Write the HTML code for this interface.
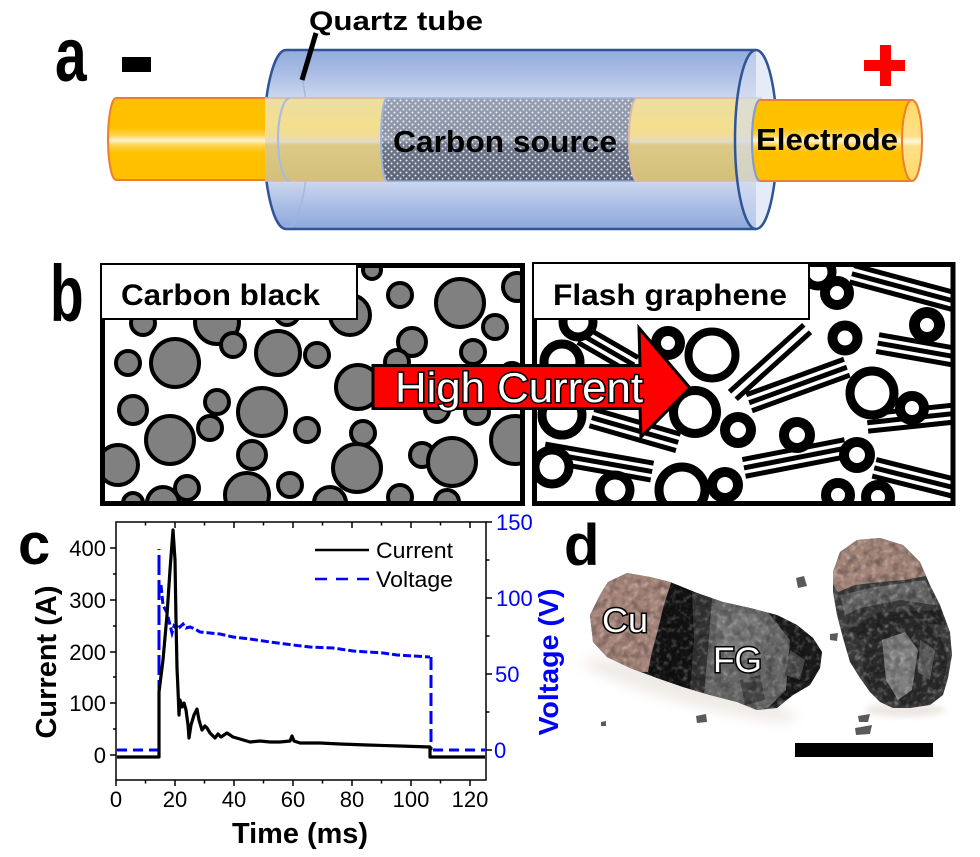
<!DOCTYPE html>
<html><head><meta charset="utf-8"><style>html,body{margin:0;padding:0;background:#fff;}svg{display:block}</style></head>
<body>
<svg width="980" height="857" viewBox="0 0 980 857" xmlns="http://www.w3.org/2000/svg" font-family="'Liberation Sans', Arial, sans-serif">
<defs>
<linearGradient id="tube" x1="0" y1="50" x2="0" y2="229" gradientUnits="userSpaceOnUse">
 <stop offset="0" stop-color="#93abdc"/><stop offset="0.13" stop-color="#aabde5"/><stop offset="0.27" stop-color="#cdd8ef"/><stop offset="0.5" stop-color="#e0e7f5"/><stop offset="0.73" stop-color="#cdd8ef"/><stop offset="0.87" stop-color="#aabde5"/><stop offset="1" stop-color="#8fa8da"/>
</linearGradient>
<linearGradient id="elec" x1="0" y1="98" x2="0" y2="181" gradientUnits="userSpaceOnUse">
 <stop offset="0" stop-color="#ffc000"/><stop offset="0.36" stop-color="#ffc000"/><stop offset="0.45" stop-color="#ffd34d"/><stop offset="0.51" stop-color="#fff3d0"/><stop offset="0.57" stop-color="#ffd34d"/><stop offset="0.66" stop-color="#ffc000"/><stop offset="1" stop-color="#ffc000"/>
</linearGradient>
<linearGradient id="iny" x1="0" y1="98" x2="0" y2="181" gradientUnits="userSpaceOnUse">
 <stop offset="0" stop-color="#ebdea2"/><stop offset="0.35" stop-color="#f3df8e"/><stop offset="0.47" stop-color="#f0dc9a"/><stop offset="0.52" stop-color="#e2ddcb"/><stop offset="0.57" stop-color="#dcc986"/><stop offset="1" stop-color="#d3c07a"/>
</linearGradient>
<linearGradient id="carb" x1="0" y1="98" x2="0" y2="181" gradientUnits="userSpaceOnUse">
 <stop offset="0" stop-color="#97a0b1"/><stop offset="0.4" stop-color="#8a93a5"/><stop offset="0.5" stop-color="#9ba3b3"/><stop offset="0.56" stop-color="#6f788b"/><stop offset="1" stop-color="#586175"/>
</linearGradient>
<linearGradient id="cap" x1="0" y1="100" x2="0" y2="181" gradientUnits="userSpaceOnUse">
 <stop offset="0" stop-color="#ffd966"/><stop offset="0.45" stop-color="#ffe08a"/><stop offset="0.51" stop-color="#fff8e0"/><stop offset="0.57" stop-color="#ffe08a"/><stop offset="1" stop-color="#ffd966"/>
</linearGradient>
<pattern id="dots" width="6" height="6" patternUnits="userSpaceOnUse"><circle cx="1.5" cy="1.5" r="1" fill="#fff" opacity="0.85"/><circle cx="4.5" cy="4.5" r="1" fill="#fff" opacity="0.85"/></pattern>
<clipPath id="clipL"><rect x="105" y="268" width="415" height="235"/></clipPath>
<clipPath id="clipR"><rect x="537" y="267" width="414" height="236"/></clipPath>
<filter id="mot" x="0" y="0" width="100%" height="100%"><feTurbulence type="fractalNoise" baseFrequency="0.18" numOctaves="2" seed="5"/><feColorMatrix type="matrix" values="0 0 0 0 1  0 0 0 0 1  0 0 0 0 1  0 0 0 2.4 -1.15"/></filter>
<filter id="motd" x="0" y="0" width="100%" height="100%"><feTurbulence type="fractalNoise" baseFrequency="0.12" numOctaves="2" seed="11"/><feColorMatrix type="matrix" values="0 0 0 0 0  0 0 0 0 0  0 0 0 0 0  0 0 0 2.4 -1.0"/></filter>
<filter id="blur6" x="-30%" y="-100%" width="160%" height="300%"><feGaussianBlur stdDeviation="6"/></filter>
<filter id="blur3" x="-30%" y="-100%" width="160%" height="300%"><feGaussianBlur stdDeviation="3"/></filter>
<clipPath id="objL"><polygon points="590,615 600,595 608,582 627,573 650,577 670,582 697,593 723,602 750,608 777,615 797,625 813,638 822,652 820,668 810,685 793,695 777,708 757,710 737,702 710,695 683,687 657,678 630,668 607,657 593,642"/></clipPath>
<clipPath id="objR"><polygon points="833,572 840,552 857,540 880,538 903,545 920,562 930,585 940,605 950,632 952,655 948,678 943,695 930,705 910,708 893,708 880,702 870,692 860,678 850,662 843,638 837,615 833,592"/></clipPath>
</defs>

<!-- ============ Panel a ============ -->
<g transform="translate(55,81) scale(1,1.34)"><text x="0" y="0" font-size="57" font-weight="bold">a</text></g>
<rect x="122" y="57" width="29" height="15" fill="#000"/>
<rect x="864" y="60" width="41" height="11" fill="#ff0000"/>
<rect x="880" y="45" width="11" height="41" fill="#ff0000"/>

<path d="M756 50 L286 50 A22 89.5 0 0 0 286 229 L756 229 Z" fill="url(#tube)"/>
<path d="M286 50 A22 89.5 0 0 1 286 229" fill="none" stroke="#9db3df" stroke-width="1.5" opacity="0.8"/>
<path d="M756 50 L286 50 A22 89.5 0 0 0 286 229 L756 229" fill="none" stroke="#2f5597" stroke-width="2.5"/>

<path d="M268 98 L116 98 A8 41 0 0 0 116 180 L268 180 Z" fill="url(#elec)" stroke="#ed7d31" stroke-width="2"/>
<rect x="265" y="98" width="130" height="83" fill="url(#iny)"/>
<line x1="265" y1="98" x2="395" y2="98" stroke="#dcb4a4" stroke-width="1.5"/>
<line x1="265" y1="181" x2="395" y2="181" stroke="#dcb4a4" stroke-width="1.5"/>
<path d="M290 98 A12 41.5 0 0 0 290 181" fill="none" stroke="#a7bbe2" stroke-width="2"/>
<path d="M640 98 L387 98 A6 41.5 0 0 0 387 181 L640 181 Z" fill="url(#carb)"/>
<path d="M640 98 L387 98 A6 41.5 0 0 0 387 181 L640 181 Z" fill="url(#dots)"/>
<path d="M387 98 A6 41.5 0 0 0 387 181" fill="none" stroke="#9db3df" stroke-width="2"/>
<line x1="387" y1="98" x2="640" y2="98" stroke="#9db3df" stroke-width="1.5"/>
<line x1="387" y1="181" x2="640" y2="181" stroke="#8ea4cf" stroke-width="1.5"/>
<path d="M762 98 L637 98 A8 41.5 0 0 0 637 181 L762 181 Z" fill="url(#iny)"/>
<path d="M637 98 A8 41.5 0 0 0 637 181" fill="none" stroke="#e0b8a4" stroke-width="2"/>
<line x1="637" y1="98" x2="762" y2="98" stroke="#dcb4a4" stroke-width="1.5"/>
<line x1="637" y1="181" x2="762" y2="181" stroke="#dcb4a4" stroke-width="1.5"/>
<ellipse cx="756" cy="139.5" rx="21" ry="89.5" fill="#d3ddf1" fill-opacity="0.6" stroke="#2f5597" stroke-width="2.5"/>
<path d="M912 100 L760 100 A8 40.5 0 0 0 760 181 L912 181 Z" fill="url(#elec)" stroke="#ed7d31" stroke-width="2"/>
<path d="M760 100 A8 40.5 0 0 0 760 181" fill="none" stroke="#7f9fd4" stroke-width="2"/>
<ellipse cx="912" cy="140.5" rx="10" ry="40.5" fill="url(#cap)" stroke="#ed7d31" stroke-width="2"/>

<text x="393" y="152" font-size="31" font-weight="bold" textLength="224" lengthAdjust="spacingAndGlyphs">Carbon source</text>
<text x="756" y="150" font-size="31" font-weight="bold" textLength="142" lengthAdjust="spacingAndGlyphs">Electrode</text>
<text x="309" y="30" font-size="27" font-weight="bold" textLength="174" lengthAdjust="spacingAndGlyphs">Quartz tube</text>
<line x1="316" y1="33" x2="302" y2="80" stroke="#000" stroke-width="5"/>

<!-- ============ Panel b ============ -->
<g transform="translate(50,321) scale(1,1.45)"><text x="0" y="0" font-size="55" font-weight="bold">b</text></g>

<g clip-path="url(#clipL)" fill="#808080" stroke="#000" stroke-width="4">
<circle cx="372" cy="270" r="9"/><circle cx="400" cy="295" r="12"/><circle cx="460" cy="303" r="24"/><circle cx="517" cy="287" r="14"/>
<circle cx="495" cy="327" r="12"/><circle cx="412" cy="342" r="14"/><circle cx="473" cy="352" r="12"/><circle cx="397" cy="362" r="12"/>
<circle cx="287" cy="313" r="12"/><circle cx="217" cy="322" r="22"/><circle cx="143" cy="323" r="12"/><circle cx="350" cy="315" r="20"/>
<circle cx="278" cy="353" r="22"/><circle cx="317" cy="355" r="12"/><circle cx="233" cy="345" r="12"/><circle cx="175" cy="363" r="24"/>
<circle cx="128" cy="363" r="12"/><circle cx="358" cy="387" r="22"/><circle cx="133" cy="410" r="14"/><circle cx="217" cy="402" r="12"/>
<circle cx="262" cy="412" r="24"/><circle cx="210" cy="428" r="12"/><circle cx="170" cy="440" r="24"/><circle cx="307" cy="430" r="12"/>
<circle cx="363" cy="433" r="12"/><circle cx="357" cy="468" r="24"/><circle cx="252" cy="455" r="14"/><circle cx="118" cy="465" r="20"/>
<circle cx="422" cy="455" r="12"/><circle cx="452" cy="462" r="24"/><circle cx="515" cy="440" r="24"/><circle cx="477" cy="412" r="12"/>
<circle cx="437" cy="410" r="12"/><circle cx="512" cy="375" r="12"/><circle cx="290" cy="485" r="12"/><circle cx="247" cy="495" r="22"/>
<circle cx="187" cy="488" r="12"/><circle cx="163" cy="503" r="16"/><circle cx="133" cy="503" r="10"/><circle cx="330" cy="503" r="16"/>
<circle cx="400" cy="497" r="12"/><circle cx="447" cy="502" r="12"/>
</g>
<rect x="102.5" y="265.5" width="420" height="238" fill="none" stroke="#000" stroke-width="5"/>
<rect x="101" y="264" width="256" height="55" fill="#fff" stroke="#000" stroke-width="2"/>
<text x="121" y="305" font-size="30" font-weight="bold" textLength="199" lengthAdjust="spacingAndGlyphs">Carbon black</text>

<g clip-path="url(#clipR)">
 <g stroke="#000" stroke-width="5">
  <g transform="translate(905,288) rotate(15)"><line x1="-55" y1="-8.5" x2="55" y2="-8.5"/><line x1="-55" y1="0" x2="55" y2="0"/><line x1="-55" y1="8.5" x2="55" y2="8.5"/></g>
  <g transform="translate(770,362) rotate(-42)"><line x1="-50" y1="-5" x2="50" y2="-5"/><line x1="-50" y1="5" x2="50" y2="5"/></g>
  <g transform="translate(798,385) rotate(-20)"><line x1="-52" y1="-8.5" x2="52" y2="-8.5"/><line x1="-52" y1="0" x2="52" y2="0"/><line x1="-52" y1="8.5" x2="52" y2="8.5"/></g>
  <g transform="translate(917,350) rotate(10)"><line x1="-40" y1="-8.5" x2="40" y2="-8.5"/><line x1="-40" y1="0" x2="40" y2="0"/><line x1="-40" y1="8.5" x2="40" y2="8.5"/></g>
  <g transform="translate(912,418) rotate(-6)"><line x1="-45" y1="-8.5" x2="45" y2="-8.5"/><line x1="-45" y1="0" x2="45" y2="0"/><line x1="-45" y1="8.5" x2="45" y2="8.5"/></g>
  <g transform="translate(635,430) rotate(16)"><line x1="-45" y1="-8.5" x2="45" y2="-8.5"/><line x1="-45" y1="0" x2="45" y2="0"/><line x1="-45" y1="8.5" x2="45" y2="8.5"/></g>
  <g transform="translate(598,462) rotate(10)"><line x1="-55" y1="-8.5" x2="55" y2="-8.5"/><line x1="-55" y1="0" x2="55" y2="0"/><line x1="-55" y1="8.5" x2="55" y2="8.5"/></g>
  <g transform="translate(795,458) rotate(-11)"><line x1="-52" y1="-8.5" x2="52" y2="-8.5"/><line x1="-52" y1="0" x2="52" y2="0"/><line x1="-52" y1="8.5" x2="52" y2="8.5"/></g>
  <g transform="translate(915,478) rotate(14)"><line x1="-42" y1="-8.5" x2="42" y2="-8.5"/><line x1="-42" y1="0" x2="42" y2="0"/><line x1="-42" y1="8.5" x2="42" y2="8.5"/></g>
  <g transform="translate(608,350) rotate(30)"><line x1="-30" y1="-8.5" x2="30" y2="-8.5"/><line x1="-30" y1="0" x2="30" y2="0"/><line x1="-30" y1="8.5" x2="30" y2="8.5"/></g>
 </g>
 <g fill="#fff" stroke="#000">
  <circle cx="837" cy="293" r="12" stroke-width="10"/><circle cx="927" cy="325" r="12.5" stroke-width="11"/><circle cx="845" cy="338" r="12.5" stroke-width="10"/>
  <circle cx="668" cy="343" r="12" stroke-width="10"/><circle cx="712" cy="355" r="23.5" stroke-width="8"/><circle cx="872" cy="393" r="22" stroke-width="9"/>
  <circle cx="912" cy="408" r="12" stroke-width="10"/><circle cx="695" cy="412" r="21.5" stroke-width="9"/><circle cx="738" cy="430" r="13" stroke-width="10"/>
  <circle cx="797" cy="435" r="13" stroke-width="10"/><circle cx="857" cy="455" r="13" stroke-width="10"/><circle cx="562" cy="362" r="18" stroke-width="9"/>
  <circle cx="562" cy="415" r="20" stroke-width="9"/><circle cx="552" cy="467" r="17" stroke-width="9"/><circle cx="682" cy="490" r="23" stroke-width="9"/>
  <circle cx="725" cy="485" r="13" stroke-width="10"/><circle cx="838" cy="495" r="12" stroke-width="10"/><circle cx="878" cy="497" r="12" stroke-width="10"/>
  <circle cx="578" cy="322" r="15" stroke-width="9"/><circle cx="615" cy="490" r="15" stroke-width="9"/><circle cx="818" cy="272" r="14" stroke-width="9"/>
 </g>
</g>
<rect x="534.5" y="264.5" width="418.5" height="239" fill="none" stroke="#000" stroke-width="5"/>
<rect x="533" y="263" width="276" height="56" fill="#fff" stroke="#000" stroke-width="2"/>
<text x="553" y="305" font-size="30" font-weight="bold" textLength="234" lengthAdjust="spacingAndGlyphs">Flash graphene</text>

<polygon points="373,365.5 640,365.5 639,328 690,388 641,437 640,408.5 373,408.5" fill="#ff0000" stroke="#000" stroke-width="3" stroke-linejoin="miter"/>
<text x="395" y="402" font-size="42" fill="#fff" stroke="#000" stroke-width="3" paint-order="stroke" textLength="248" lengthAdjust="spacingAndGlyphs">High Current</text>

<!-- ============ Panel c ============ -->
<text x="18" y="564" font-size="58" font-weight="bold">c</text>
<g stroke="#000" stroke-width="1.5" fill="none">
 <rect x="116" y="522" width="370" height="258"/>
 <path d="M110 755H116M110 703H116M110 652H116M110 600H116M110 548H116M113 729H116M113 677H116M113 626H116M113 574H116"/>
 <path d="M116 780V786M175 780V786M234 780V786M293 780V786M352 780V786M411 780V786M470 780V786M145.5 780V783.5M204.5 780V783.5M263.5 780V783.5M322.5 780V783.5M381.5 780V783.5M440.5 780V783.5"/>
 <path d="M175 522V528M234 522V528M293 522V528M352 522V528M411 522V528M470 522V528M145.5 522V525.5M204.5 522V525.5M263.5 522V525.5M322.5 522V525.5M381.5 522V525.5M440.5 522V525.5"/>
 <path d="M486 750H492M486 674H492M486 598H492M486 522H492M486 712H489.5M486 636H489.5M486 560H489.5"/>
</g>
<g font-size="22" text-anchor="end">
 <text x="106" y="763">0</text><text x="106" y="711">100</text><text x="106" y="660">200</text><text x="106" y="608">300</text><text x="106" y="556">400</text>
</g>
<g font-size="22" text-anchor="middle">
 <text x="116" y="807">0</text><text x="175" y="807">20</text><text x="234" y="807">40</text><text x="293" y="807">60</text><text x="352" y="807">80</text><text x="411" y="807">100</text><text x="470" y="807">120</text>
</g>
<g font-size="22" fill="#0000ff">
 <text x="494" y="758">0</text><text x="495" y="682">50</text><text x="496" y="606">100</text><text x="496" y="530">150</text>
</g>
<text transform="translate(56,662) rotate(-90)" text-anchor="middle" font-size="29" font-weight="bold" textLength="153" lengthAdjust="spacingAndGlyphs">Current (A)</text>
<text transform="translate(558,662) rotate(-90)" text-anchor="middle" font-size="28" font-weight="bold" fill="#0000ff" textLength="147" lengthAdjust="spacingAndGlyphs">Voltage (V)</text>
<text x="232" y="843" font-size="29" font-weight="bold" textLength="136" lengthAdjust="spacingAndGlyphs">Time (ms)</text>

<g fill="none" stroke="#0000ff" stroke-width="3">
 <path d="M117 750 L159 750" stroke-dasharray="10,6"/>
 <path d="M159 750 L159 549" stroke-dasharray="20,5"/>
 <path d="M161 585 L163 605 L167 613 L170 625 L172 633 L174 626 L176 628 L178 624 L180 627 L183 624 L186 628 L190 627 L195 629 L200 632 L210 633 L220 634 L233 637 L250 639 L270 642 L293 645 L310 647 L333 648 L353 651 L383 653 L397 655 L430 657" stroke-dasharray="8,3"/>
 <path d="M431 657 L431 750" stroke-dasharray="13,5"/>
 <path d="M433 750 L485 750" stroke-dasharray="10,6"/>
</g>
<path d="M117 757 L159 757 L159 692 L163 660 L167 615 L170 570 L173 530 L175 560 L176 620 L177 668 L178 690 L179 715 L180 700 L182 707 L184 703 L186 710 L188 725 L189 738 L191 725 L194 715 L197 709 L199 720 L202 730 L205 726 L207 728 L210 733 L213 736 L215 738 L218 734 L221 737 L227 733 L233 737 L240 739 L250 742 L260 741 L270 742 L280 742 L290 741 L292 736 L294 741 L300 743 L320 743 L340 744 L367 745 L400 746 L430 747 L430 757 L485 757" fill="none" stroke="#000" stroke-width="3.2" stroke-linejoin="round"/>

<line x1="315" y1="550" x2="369" y2="550" stroke="#000" stroke-width="2.5"/>
<text x="376" y="558" font-size="22.5" textLength="77" lengthAdjust="spacingAndGlyphs">Current</text>
<line x1="315" y1="579" x2="369" y2="579" stroke="#0000ff" stroke-width="2.5" stroke-dasharray="12,9"/>
<text x="376" y="587" font-size="22.5" textLength="77" lengthAdjust="spacingAndGlyphs">Voltage</text>

<!-- ============ Panel d ============ -->
<text x="564" y="565" font-size="58" font-weight="bold">d</text>
<ellipse cx="690" cy="690" rx="110" ry="14" transform="rotate(15 690 690)" fill="#cbbcae" opacity="0.3" filter="url(#blur6)"/>
<ellipse cx="905" cy="710" rx="40" ry="7" fill="#cbbcae" opacity="0.35" filter="url(#blur3)"/>

<g clip-path="url(#objL)">
 <rect x="585" y="565" width="240" height="150" fill="#262626"/>
 <polygon points="585,600 608,570 640,568 672,580 664,605 658,630 652,652 648,672 630,672 600,660 585,640" fill="#a6857a"/>
 <polygon points="672,580 697,590 712,598 705,640 702,694 683,690 657,680 648,672 652,652 658,630 664,605" fill="#121212"/>
 <polygon points="692,592 712,598 708,650 704,694 690,690 694,640" fill="#333"/>
 <polygon points="712,598 750,606 768,612 790,640 786,690 770,706 757,712 737,704 710,696 704,694 708,650" fill="#676767"/>
 <polygon points="718,612 755,614 770,630 760,660 730,660 715,640" fill="#787878"/>
 <polygon points="768,612 790,620 812,636 825,655 820,675 805,690 785,700 770,706 786,690 790,640" fill="#1a1a1a"/>
 <polygon points="790,650 805,660 800,680 785,675" fill="#4a4a4a"/>
 <polygon points="740,680 760,675 765,700 745,705" fill="#444"/>
 <rect x="585" y="565" width="240" height="150" filter="url(#mot)" opacity="0.3"/>
 <rect x="585" y="565" width="240" height="150" filter="url(#motd)" opacity="0.3"/>
</g>
<g clip-path="url(#objR)">
 <rect x="830" y="535" width="125" height="175" fill="#3a3a3a"/>
 <polygon points="830,580 840,552 857,540 880,538 903,545 920,562 926,576 905,580 880,582 855,585 838,592" fill="#a38478"/>
 <polygon points="840,595 870,588 925,580 935,605 900,600 860,608 845,615" fill="#666"/>
 <polygon points="848,630 880,612 940,610 945,625 900,622 860,640" fill="#262626"/>
 <ellipse cx="905" cy="662" rx="42" ry="44" fill="#2a2a2a"/>
 <polygon points="882,640 905,632 918,650 912,690 898,700 886,680" fill="#808080"/>
 <polygon points="920,640 935,650 930,680 918,672" fill="#5e5e5e"/>
 <rect x="830" y="535" width="125" height="175" filter="url(#mot)" opacity="0.35"/>
 <rect x="830" y="535" width="125" height="175" filter="url(#motd)" opacity="0.3"/>
</g>
<g fill="#5a5a5a">
 <polygon points="796,578 804,576 807,586 798,588"/>
 <polygon points="830,634 838,633 837,641 830,640"/>
 <polygon points="696,716 706,714 707,722 697,723"/>
 <polygon points="858,716 870,714 868,722 859,722"/>
 <polygon points="855,728 872,725 870,734 856,735"/>
 <polygon points="601,722 606,721 606,726 601,726"/>
</g>

<text x="602" y="632" font-size="34" fill="#fff" stroke="#000" stroke-width="3" paint-order="stroke" textLength="46" lengthAdjust="spacingAndGlyphs">Cu</text>
<text x="713" y="672" font-size="35" fill="#fff" stroke="#000" stroke-width="3" paint-order="stroke" textLength="49" lengthAdjust="spacingAndGlyphs">FG</text>
<rect x="795" y="743" width="138" height="14" fill="#000"/>
</svg>
</body></html>
